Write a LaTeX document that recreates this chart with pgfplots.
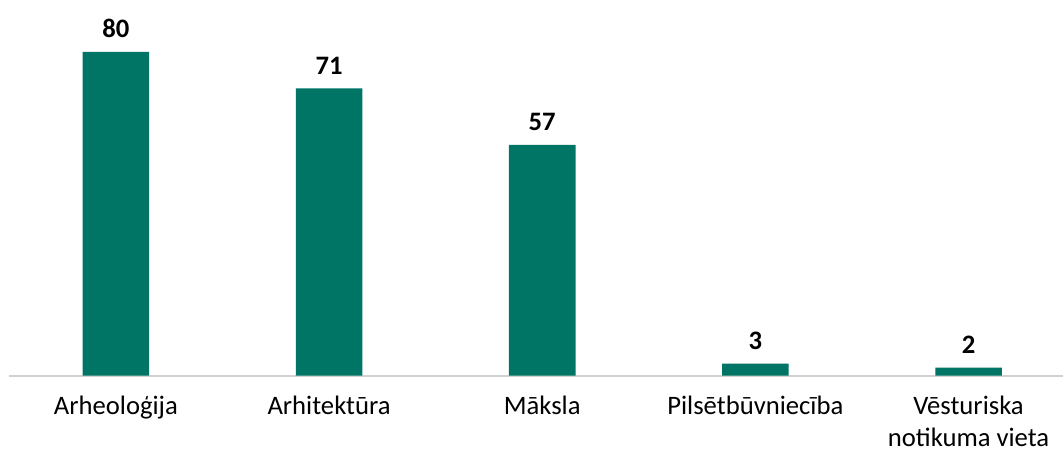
\documentclass[border=0pt]{standalone}
\usepackage{fontspec}
\setmainfont{Carlito}
\usepackage{pgfplots}
\pgfplotsset{compat=1.18}
\definecolor{barteal}{RGB}{0,117,101}

\begin{document}
\begin{tikzpicture}
\begin{axis}[
    scale only axis,
    width=791pt,
    height=282pt,
    xmin=-0.5, xmax=4.444,
    ymin=0, ymax=92.8,
    axis x line=bottom,
    axis y line=none,
    axis line style={draw=black!18, line width=1.2pt, -},
    xtick={0,1,2,3,4},
    xticklabels={Arheoloģija, Arhitektūra, Māksla, Pilsētbūvniecība, {Vēsturiska\\notikuma vieta}},
    xticklabel style={font=\fontsize{20}{24}\selectfont, align=center, yshift=-12pt},
    major tick length=0pt,
    /pgf/number format/assume math mode=true,
    ybar,
    bar width=50pt,
    nodes near coords,
    every node near coord/.append style={font=\fontsize{20}{24}\selectfont\bfseries, yshift=7pt},
    clip=false,
]
\addplot[fill=barteal, draw=none] coordinates {
(0,80) (1,71) (2,57) (3,3) (4,2)
};
\end{axis}
\path ([xshift=-7pt]current axis.south west) ([xshift=-7pt]current axis.north west);
\end{tikzpicture}
\end{document}
